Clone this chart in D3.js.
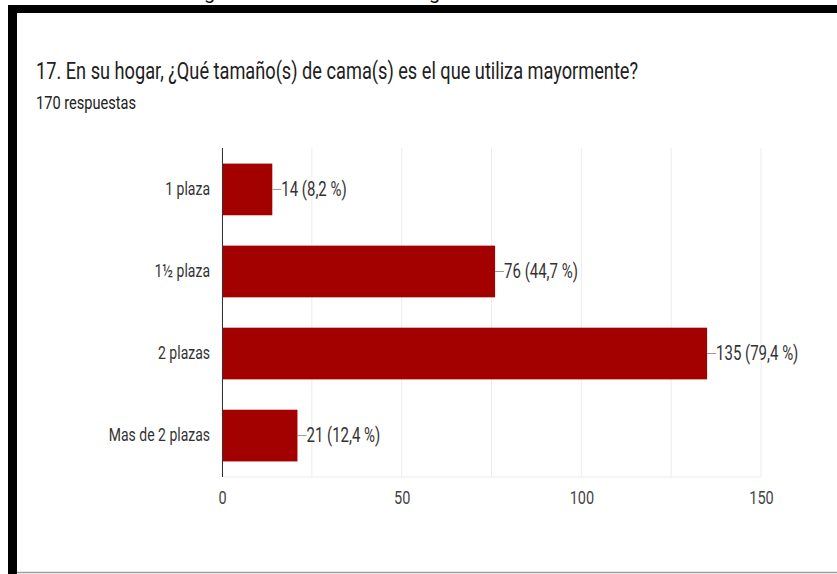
<!DOCTYPE html>
<html>
<head>
<meta charset="utf-8">
<script src="https://cdn.jsdelivr.net/npm/d3@7"></script>
<style>
  body { margin: 0; background: #fff; }
  svg { display: block; font-family: Roboto, "Liberation Sans", sans-serif; }
  /* the screenshot is a little stretched vertically */
  .tall { transform-box: fill-box; transform-origin: center; transform: scaleY(1.3); }
</style>
</head>
<body>
<svg id="chart"></svg>
<script>
const categories = ["1 plaza", "1½ plaza", "2 plazas", "Mas de 2 plazas"];
const counts = [14, 76, 135, 21];
const percents = ["8,2", "44,7", "79,4", "12,4"];
const xTicks = [0, 50, 100, 150];
const gridTicks = [0, 25, 50, 75, 100, 125, 150];

const width = 837;
const height = 574;
const margin = { top: 148, right: 76, bottom: 97, left: 222 };

const svg = d3.select("#chart")
    .attr("width", width)
    .attr("height", height);

svg.append("rect").attr("width", width).attr("height", height).attr("fill", "#fff");

// frame of the screenshot (heading above is cut off)
svg.append("text")
    .attr("x", 204).attr("y", -1)
    .style("font-size", "20px").style("fill", "#111")
    .text("g");
svg.append("text")
    .attr("x", 429).attr("y", -1)
    .style("font-size", "20px").style("fill", "#111")
    .text("g");
svg.append("rect").attr("x", 8).attr("y", 5).attr("width", width - 8).attr("height", 8).attr("fill", "#000");
svg.append("rect").attr("x", 8).attr("y", 5).attr("width", 9).attr("height", height - 5).attr("fill", "#000");
svg.append("line")
    .attr("x1", 17).attr("x2", width)
    .attr("y1", 572.5).attr("y2", 572.5)
    .attr("stroke", "#9e9e9e").attr("stroke-width", 1.5);

// titles
svg.append("text")
    .attr("class", "tall")
    .attr("x", 36).attr("y", 77)
    .style("font-size", "18.2px").style("fill", "#212121")
    .text("17. En su hogar, ¿Qué tamaño(s) de cama(s) es el que utiliza mayormente?");

svg.append("text")
    .attr("class", "tall")
    .attr("x", 36).attr("y", 107)
    .style("font-size", "14.6px").style("fill", "#212121")
    .text("170 respuestas");

const xScale = d3.scaleLinear()
    .domain([0, 150])
    .range([margin.left, width - margin.right]);

const yScale = d3.scaleBand()
    .domain(categories)
    .range([margin.top, height - margin.bottom])
    .paddingInner(0.37)
    .paddingOuter(0.19);

// grid
svg.append("g")
    .selectAll("line")
    .data(gridTicks)
    .enter()
    .append("line")
    .attr("x1", d => xScale(d)).attr("x2", d => xScale(d))
    .attr("y1", margin.top).attr("y2", height - margin.bottom)
    .attr("stroke", "#ececec").attr("stroke-width", 1);

svg.append("line")
    .attr("x1", margin.left).attr("x2", width - margin.right)
    .attr("y1", height - margin.bottom).attr("y2", height - margin.bottom)
    .attr("stroke", "#ececec");

// x axis labels
const xAxis = svg.append("g")
    .attr("transform", `translate(0, ${height - margin.bottom})`)
    .call(d3.axisBottom(xScale).tickValues(xTicks).tickSize(0).tickPadding(15));
xAxis.select(".domain").remove();
xAxis.selectAll("text")
    .attr("class", "tall")
    .style("font-size", "14.5px")
    .style("font-family", "Roboto, sans-serif")
    .style("fill", "#444");

// y axis labels
const yAxis = svg.append("g")
    .attr("transform", `translate(${margin.left}, 0)`)
    .call(d3.axisLeft(yScale).tickSize(0).tickPadding(12));
yAxis.select(".domain").remove();
yAxis.selectAll("text")
    .attr("class", "tall")
    .style("font-size", "14px")
    .style("font-family", "Roboto, sans-serif")
    .style("fill", "#333");

// bars
svg.selectAll(".bar")
    .data(categories)
    .enter()
    .append("rect")
    .attr("class", "bar")
    .attr("x", xScale(0))
    .attr("y", d => yScale(d))
    .attr("width", (d, i) => xScale(counts[i]) - xScale(0))
    .attr("height", yScale.bandwidth())
    .attr("fill", "#a30000");

// baseline
svg.append("line")
    .attr("x1", margin.left + 0.5).attr("x2", margin.left + 0.5)
    .attr("y1", margin.top).attr("y2", height - margin.bottom)
    .attr("stroke", "#333").attr("stroke-width", 1);

// value labels with leader lines
const labels = svg.append("g")
    .selectAll("g")
    .data(categories)
    .enter()
    .append("g")
    .attr("transform", (d, i) => `translate(${xScale(counts[i])}, ${yScale(d) + yScale.bandwidth() / 2})`);

labels.append("line")
    .attr("x1", 0).attr("x2", 9)
    .attr("stroke", "#999").attr("stroke-width", 1);

labels.append("text")
    .attr("class", "tall")
    .attr("x", 9).attr("dy", "0.35em")
    .style("font-size", "15px")
    .style("fill", "#333")
    .text((d, i) => `${counts[i]} (${percents[i]} %)`);
</script>
</body>
</html>
